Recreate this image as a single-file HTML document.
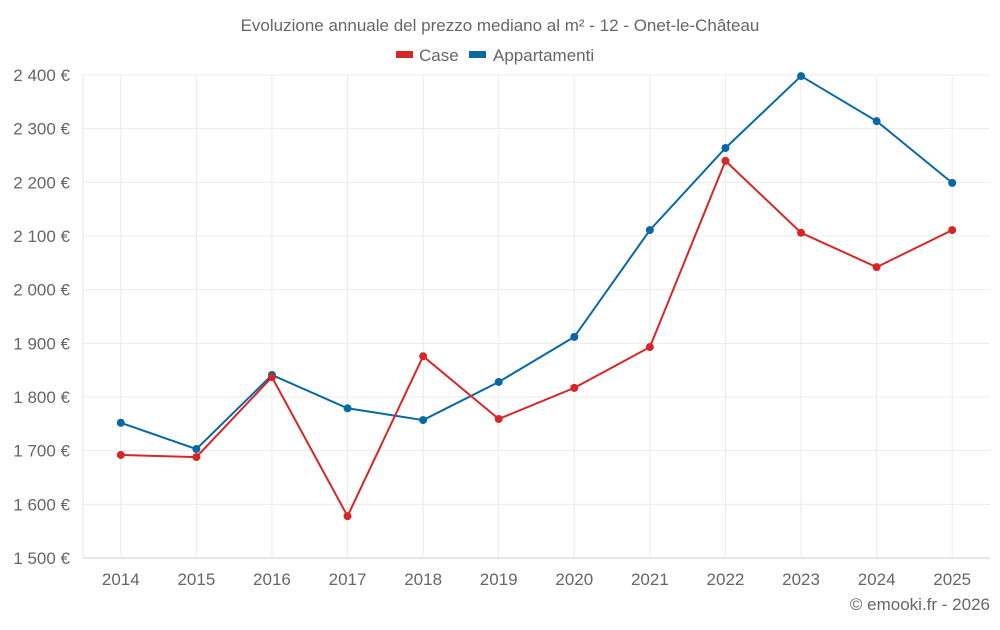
<!DOCTYPE html>
<html><head><meta charset="utf-8"><style>
body{margin:0;background:#fff;font-family:"Liberation Sans",sans-serif;}
svg text{font-family:"Liberation Sans",sans-serif;fill:#666;}
</style></head><body>
<svg id="c" width="1000" height="625">
<text x="500" y="31" text-anchor="middle" font-size="17">Evoluzione annuale del prezzo mediano al m² - 12 - Onet-le-Château</text>
<g>
<rect x="396" y="51" width="17" height="7" fill="#d62728"/>
<text x="419" y="61" font-size="17">Case</text>
<rect x="469" y="51" width="17" height="7" fill="#0868a4"/>
<text x="493" y="61" font-size="17">Appartamenti</text>
</g>
<g id="grid"></g><g id="axes"></g><g id="series"></g>
<text x="990" y="610" text-anchor="end" font-size="17">© emooki.fr - 2026</text>
</svg>
<script>
const years=[2014,2015,2016,2017,2018,2019,2020,2021,2022,2023,2024,2025];
const caseVals=[1692,1688,1837,1578,1876,1759,1817,1893,2240,2106,2042,2111];
const appVals=[1752,1703,1841,1779,1757,1828,1912,2111,2264,2398,2314,2199];
const yTicks=[1500,1600,1700,1800,1900,2000,2100,2200,2300,2400];
const L=83,R=990,T=75,B=558,yMin=1500,yMax=2400;
const step=(R-L)/years.length;
const xs=i=>L+step*(i+0.5);
const ys=v=>B-(v-yMin)/(yMax-yMin)*(B-T);
const NS="http://www.w3.org/2000/svg";
function mk(t,a,p){const e=document.createElementNS(NS,t);for(const k in a)e.setAttribute(k,a[k]);p.appendChild(e);return e;}
const g=document.getElementById('grid'),ax=document.getElementById('axes'),s=document.getElementById('series');
yTicks.forEach(v=>{
 const l=mk('line',{x1:L,x2:R,y1:ys(v),y2:ys(v),stroke:v===yMin?'#ccc':'#ebebeb'},g);
 
 
 const t=mk('text',{x:70,y:ys(v)+6,'text-anchor':'end','font-size':'17'},ax);
 t.textContent=String(v).replace(/\B(?=(\d{3})+$)/,' ')+' €';
 
 
});
const la=mk('line',{x1:L,x2:L,y1:T,y2:B,stroke:'#e6e6e6'},g);


years.forEach((y,i)=>{
 const l=mk('line',{x1:xs(i),x2:xs(i),y1:T,y2:B,stroke:'#ebebeb'},g);
 
 
 const t=mk('text',{x:xs(i),y:585,'text-anchor':'middle','font-size':'17'},ax);
 t.textContent=y;
 
 
});
function series(vals,col,name){
 const p=mk('polyline',{points:vals.map((v,i)=>xs(i)+','+ys(v)).join(' '),fill:'none',stroke:col,'stroke-width':2},s);
 
 
 vals.forEach((v,i)=>{
  const c=mk('circle',{cx:xs(i),cy:ys(v),r:4,fill:col},s);
  
  
 });
}
series(appVals,'#0868a4','appartamenti');
series(caseVals,'#d62728','case');
</script>
</body></html>
